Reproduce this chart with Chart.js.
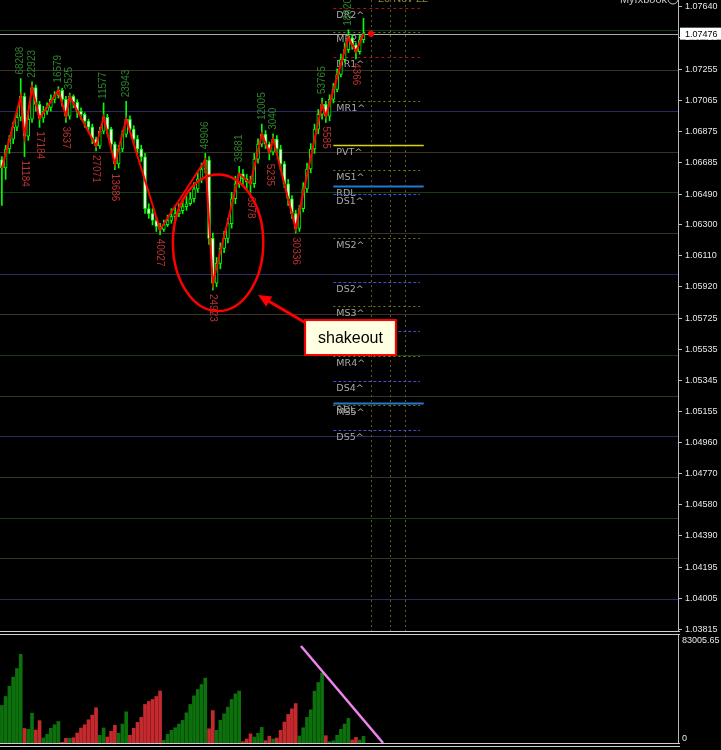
<!DOCTYPE html>
<html>
<head>
<meta charset="utf-8">
<script src="https://cdn.jsdelivr.net/npm/chart.js@4.4.0/dist/chart.umd.min.js"></script>
<style>
  html, body { margin: 0; padding: 0; background: #000; }
  #wrap { position: relative; width: 721px; height: 750px; overflow: hidden; background: #000; }
  #price { position: absolute; left: 0; top: 0; }
  #vol { position: absolute; left: 0; top: 631px; }
</style>
</head>
<body>
<div id="wrap">
  <canvas id="price" width="721" height="640"></canvas>
  <canvas id="vol" width="721" height="119"></canvas>
</div>
<script>
// EURUSD-style intraday candles (oldest first)
const opens = [
  1.06700, 1.06650, 1.06767, 1.06828, 1.06901, 1.06962, 1.07090, 1.06846, 1.06950, 1.07145,
  1.07041, 1.06956, 1.06999, 1.07023, 1.07072, 1.07096, 1.07127, 1.07072, 1.06968, 1.07090,
  1.07054, 1.06999, 1.06980, 1.06938, 1.06901, 1.06828, 1.06785, 1.06877, 1.06962, 1.06889,
  1.06797, 1.06675, 1.06767, 1.06858, 1.06950, 1.06889, 1.06828, 1.06767, 1.06718, 1.06400,
  1.06369, 1.06327, 1.06290, 1.06272, 1.06302, 1.06327, 1.06351, 1.06369, 1.06388, 1.06412,
  1.06430, 1.06461, 1.06522, 1.06583, 1.06644, 1.06699, 1.06217, 1.05942, 1.06064, 1.06156,
  1.06217, 1.06308, 1.06461, 1.06553, 1.06614, 1.06583, 1.06565, 1.06553, 1.06705, 1.06797,
  1.06858, 1.06797, 1.06748, 1.06828, 1.06767, 1.06675, 1.06553, 1.06461, 1.06369, 1.06278,
  1.06400, 1.06522, 1.06644, 1.06767, 1.06889, 1.06980, 1.07041, 1.06968, 1.07072, 1.07133,
  1.07225, 1.07316, 1.07378, 1.07451, 1.07408, 1.07365, 1.07439
];
const highs = [
  1.06720, 1.06790, 1.06850, 1.06930, 1.06990, 1.07200, 1.07110, 1.06990, 1.07180, 1.07160,
  1.07060, 1.07030, 1.07050, 1.07100, 1.07120, 1.07150, 1.07140, 1.07090, 1.07110, 1.07100,
  1.07070, 1.07020, 1.06990, 1.06950, 1.06920, 1.06840, 1.06900, 1.07050, 1.06980, 1.06900,
  1.06810, 1.06790, 1.06880, 1.07060, 1.06970, 1.06910, 1.06850, 1.06790, 1.06740, 1.06430,
  1.06400, 1.06350, 1.06310, 1.06330, 1.06360, 1.06400, 1.06420, 1.06430, 1.06460, 1.06480,
  1.06500, 1.06560, 1.06620, 1.06680, 1.06740, 1.06720, 1.06250, 1.06100, 1.06190, 1.06260,
  1.06340, 1.06500, 1.06600, 1.06660, 1.06640, 1.06610, 1.06600, 1.06740, 1.06830, 1.06920,
  1.06880, 1.06810, 1.06860, 1.06850, 1.06790, 1.06690, 1.06580, 1.06480, 1.06390, 1.06420,
  1.06560, 1.06680, 1.06800, 1.06920, 1.07010, 1.07080, 1.07060, 1.07100, 1.07170, 1.07260,
  1.07350, 1.07420, 1.07500, 1.07470, 1.07420, 1.07470, 1.07570
];
const lows = [
  1.06420, 1.06580, 1.06740, 1.06800, 1.06880, 1.06940, 1.06720, 1.06820, 1.06930, 1.07000,
  1.06900, 1.06930, 1.06980, 1.07000, 1.07050, 1.07080, 1.07030, 1.06930, 1.06950, 1.07020,
  1.06960, 1.06950, 1.06900, 1.06870, 1.06800, 1.06755, 1.06770, 1.06860, 1.06860, 1.06770,
  1.06640, 1.06650, 1.06750, 1.06840, 1.06870, 1.06800, 1.06740, 1.06690, 1.06370, 1.06340,
  1.06300, 1.06260, 1.06240, 1.06260, 1.06290, 1.06310, 1.06330, 1.06350, 1.06370, 1.06390,
  1.06420, 1.06440, 1.06500, 1.06560, 1.06620, 1.06180, 1.05900, 1.05920, 1.06030, 1.06130,
  1.06190, 1.06280, 1.06430, 1.06530, 1.06540, 1.06520, 1.06500, 1.06530, 1.06680, 1.06780,
  1.06770, 1.06700, 1.06730, 1.06740, 1.06640, 1.06530, 1.06420, 1.06340, 1.06250, 1.06260,
  1.06380, 1.06500, 1.06620, 1.06740, 1.06860, 1.06950, 1.06930, 1.06940, 1.07050, 1.07120,
  1.07210, 1.07300, 1.07360, 1.07380, 1.07320, 1.07350, 1.07420
];
const closes = [
  1.06650, 1.06767, 1.06828, 1.06901, 1.06962, 1.07090, 1.06846, 1.06950, 1.07145, 1.07041,
  1.06956, 1.06999, 1.07023, 1.07072, 1.07096, 1.07127, 1.07072, 1.06968, 1.07090, 1.07054,
  1.06999, 1.06980, 1.06938, 1.06901, 1.06828, 1.06785, 1.06877, 1.06962, 1.06889, 1.06797,
  1.06675, 1.06767, 1.06858, 1.06950, 1.06889, 1.06828, 1.06767, 1.06718, 1.06400, 1.06369,
  1.06327, 1.06290, 1.06272, 1.06302, 1.06327, 1.06351, 1.06369, 1.06388, 1.06412, 1.06430,
  1.06461, 1.06522, 1.06583, 1.06644, 1.06699, 1.06217, 1.05942, 1.06064, 1.06156, 1.06217,
  1.06308, 1.06461, 1.06553, 1.06614, 1.06583, 1.06565, 1.06553, 1.06705, 1.06797, 1.06858,
  1.06797, 1.06748, 1.06828, 1.06767, 1.06675, 1.06553, 1.06461, 1.06369, 1.06278, 1.06400,
  1.06522, 1.06644, 1.06767, 1.06889, 1.06980, 1.07041, 1.06968, 1.07072, 1.07133, 1.07225,
  1.07316, 1.07378, 1.07451, 1.07408, 1.07365, 1.07439, 1.07476
];

// cumulative wave volume per bar, and the direction of the wave it belongs to
const volumes = [
  28880, 35770, 43660, 50560, 57220, 68208,
  11184,
  10490, 22923,
  9960, 17184,
  3830, 6660, 11260, 14020, 16579,
  540, 3637,
  3525,
  4060, 7660, 11490, 14020, 17850, 21450, 27071,
  5900, 11577,
  4600, 8960, 13686,
  7430, 14550, 23943,
  5900, 11260, 15860, 19690, 29640, 31940, 33470, 35770, 40027,
  2070, 6660, 9730, 11720, 14550, 17390, 23210, 29640, 36230, 41130, 44960, 49906,
  10950, 24923,
  9730, 17390, 22440, 27580, 33470, 37760, 39881,
  1000, 3060, 6978,
  4600, 7430, 12005,
  1760, 5235,
  3040,
  3830, 9730, 16090, 21980, 26270, 30336,
  5360, 11720, 19690, 25510, 39830, 46500, 53765,
  5585,
  1000, 1760, 5900, 10490, 14550, 18920,
  2300, 4366,
  2300, 5130
];
const waveDir = [
  1, 1, 1, 1, 1, 1,
  -1,
  1, 1,
  -1, -1,
  1, 1, 1, 1, 1,
  -1, -1,
  1,
  -1, -1, -1, -1, -1, -1, -1,
  1, 1,
  -1, -1, -1,
  1, 1, 1,
  -1, -1, -1, -1, -1, -1, -1, -1, -1,
  1, 1, 1, 1, 1, 1, 1, 1, 1, 1, 1, 1,
  -1, -1,
  1, 1, 1, 1, 1, 1, 1,
  -1, -1, -1,
  1, 1, 1,
  -1, -1,
  1,
  -1, -1, -1, -1, -1, -1,
  1, 1, 1, 1, 1, 1, 1,
  -1,
  1, 1, 1, 1, 1, 1,
  -1, -1,
  1, 1
];
const zigzagBars = [0, 5, 6, 8, 10, 15, 17, 18, 25, 27, 30, 33, 42, 54, 56, 63, 66, 69, 71, 72, 78, 85, 86, 92, 94, 96];

const priceTicks = [
  1.07640, 1.07450, 1.07255, 1.07065, 1.06875, 1.06685, 1.06490, 1.06300, 1.06110, 1.05920,
  1.05725, 1.05535, 1.05345, 1.05155, 1.04960, 1.04770, 1.04580, 1.04390, 1.04195, 1.04005, 1.03815
];
const currentPrice = 1.07476;
const greenLevels = [1.0750, 1.0650, 1.0550, 1.0450];
const purpleLevels = [1.0700, 1.0600, 1.0500, 1.0400];
const brownLevels = [1.0725, 1.0675, 1.0625, 1.0575, 1.0525, 1.0475, 1.0425];

const pivotNames = ['DR2^', 'MR2^', 'DR1^', 'MR1^', 'PVT^', 'MS1^', 'RDL', 'DS1^', 'MS2^', 'DS2^',
  'MS3^', 'DS3^', 'MR4^', 'DS4^', 'RDL', 'MS5^', 'DS5^'];
const pivotValues = [1.07634, 1.07486, 1.07332, 1.07062, 1.06791, 1.06638, 1.06539, 1.06490, 1.06219, 1.05949,
  1.05801, 1.05647, 1.05497, 1.05340, 1.05205, 1.05192, 1.05039];
const pivotFromBar = 88;
const pivotToBar = 111;
const sessionBars = [98, 103, 107];
const markerBar = 98;

const volumeMax = 83005.65;
const trendBars = [79.4, 101.2];
const trendVolumes = [74550, 0];

const shakeout = {
  text: 'shakeout',
  bar: 57.4, price: 1.0619, barRadius: 12, priceRadius: 0.0042,
  boxBars: [80.5, 104.6], boxPrices: [1.05715, 1.05500],
  arrowFrom: [80.7, 1.05697], arrowTo: [68, 1.05869]
};

Chart.defaults.font.family = "'Liberation Sans', Arial, sans-serif";
Chart.defaults.color = '#e6e6e6';

const xAxis = { type: 'linear', min: -0.5, max: 179.5, offset: false, display: false };
const fixWidth = (scale) => {
  scale.width = 43;
  scale.paddingTop = 0;
  scale.paddingBottom = 0;
  scale.paddingLeft = 0;
  scale.paddingRight = 0;
};

const pivotStyle = (name) => {
  if (name.startsWith('DR')) return { color: '#a01818', dash: [3, 3], width: 1 };
  if (name.startsWith('DS')) return { color: '#4b4bd0', dash: [3, 2], width: 1 };
  if (name.startsWith('PVT')) return { color: '#d8d800', dash: [], width: 1.5 };
  if (name.startsWith('RDL')) return { color: '#2378d0', dash: [], width: 2 };
  return { color: '#7a7a1e', dash: [2, 3], width: 1 };
};

const priceOverlay = {
  id: 'priceOverlay',
  beforeDatasetsDraw(chart) {
    const { ctx, chartArea, scales: { x, y } } = chart;
    ctx.save();
    ctx.lineWidth = 1;
    const hline = (v, color) => {
      const py = Math.round(y.getPixelForValue(v)) + 0.5;
      ctx.strokeStyle = color;
      ctx.beginPath();
      ctx.moveTo(chartArea.left, py);
      ctx.lineTo(chartArea.right, py);
      ctx.stroke();
    };
    greenLevels.forEach(v => hline(v, '#143f14'));
    brownLevels.forEach(v => hline(v, '#3b3223'));
    purpleLevels.forEach(v => hline(v, '#2b2b60'));
    hline(currentPrice, '#a9a9a9');

    // session separators
    ctx.setLineDash([2, 3]);
    ctx.strokeStyle = '#5e5e16';
    sessionBars.forEach(b => {
      const px = Math.round(x.getPixelForValue(b)) + 0.5;
      ctx.beginPath();
      ctx.moveTo(px, chartArea.top);
      ctx.lineTo(px, chartArea.bottom);
      ctx.stroke();
    });

    // pivot levels
    const x0 = x.getPixelForValue(pivotFromBar);
    ctx.font = "9.5px 'DejaVu Sans'";
    ctx.textBaseline = 'top';
    ctx.textAlign = 'left';
    pivotNames.forEach((name, i) => {
      const st = pivotStyle(name);
      const py = Math.round(y.getPixelForValue(pivotValues[i])) + 0.5;
      const x1 = x.getPixelForValue(pivotToBar + (st.dash.length ? 0 : 1));
      ctx.setLineDash(st.dash);
      ctx.strokeStyle = st.color;
      ctx.lineWidth = st.width;
      ctx.beginPath();
      ctx.moveTo(x0, py);
      ctx.lineTo(x1, py);
      ctx.stroke();
      ctx.fillStyle = '#a8a8a8';
      ctx.fillText(name, x0 + 3, py + 2);
    });
    ctx.restore();
  },
  afterDatasetsDraw(chart) {
    const { ctx, chartArea, scales: { x, y } } = chart;
    ctx.save();

    // wave volume labels at each swing
    ctx.font = "10px 'Liberation Sans'";
    ctx.textBaseline = 'middle';
    ctx.textAlign = 'left';
    zigzagBars.slice(1, -1).forEach(b => {
      const px = x.getPixelForValue(b);
      ctx.save();
      if (waveDir[b] > 0) {
        ctx.translate(px, y.getPixelForValue(highs[b]) - 4);
        ctx.rotate(-Math.PI / 2);
        ctx.fillStyle = '#2d842d';
      } else {
        ctx.translate(px, y.getPixelForValue(lows[b]) + 4);
        ctx.rotate(Math.PI / 2);
        ctx.fillStyle = '#b83232';
      }
      ctx.fillText(String(volumes[b]), 0, 0);
      ctx.restore();
    });

    // shakeout annotation
    const cx = x.getPixelForValue(shakeout.bar);
    const cy = y.getPixelForValue(shakeout.price);
    const rx = x.getPixelForValue(shakeout.bar + shakeout.barRadius) - cx;
    const ry = y.getPixelForValue(shakeout.price - shakeout.priceRadius) - cy;
    ctx.strokeStyle = '#ff0000';
    ctx.lineWidth = 2.5;
    ctx.beginPath();
    ctx.ellipse(cx, cy, rx, ry, 0, 0, Math.PI * 2);
    ctx.stroke();

    const ax0 = x.getPixelForValue(shakeout.arrowFrom[0]);
    const ay0 = y.getPixelForValue(shakeout.arrowFrom[1]);
    const ax1 = x.getPixelForValue(shakeout.arrowTo[0]);
    const ay1 = y.getPixelForValue(shakeout.arrowTo[1]);
    const ang = Math.atan2(ay1 - ay0, ax1 - ax0);
    ctx.lineWidth = 3;
    ctx.beginPath();
    ctx.moveTo(ax0, ay0);
    ctx.lineTo(ax1 - 8 * Math.cos(ang), ay1 - 8 * Math.sin(ang));
    ctx.stroke();
    ctx.fillStyle = '#ff0000';
    ctx.beginPath();
    ctx.moveTo(ax1, ay1);
    ctx.lineTo(ax1 - 13 * Math.cos(ang) + 6 * Math.sin(ang), ay1 - 13 * Math.sin(ang) - 6 * Math.cos(ang));
    ctx.lineTo(ax1 - 13 * Math.cos(ang) - 6 * Math.sin(ang), ay1 - 13 * Math.sin(ang) + 6 * Math.cos(ang));
    ctx.closePath();
    ctx.fill();

    const bx0 = x.getPixelForValue(shakeout.boxBars[0]);
    const bx1 = x.getPixelForValue(shakeout.boxBars[1]);
    const by0 = y.getPixelForValue(shakeout.boxPrices[0]);
    const by1 = y.getPixelForValue(shakeout.boxPrices[1]);
    ctx.fillStyle = '#ffffe1';
    ctx.fillRect(bx0, by0, bx1 - bx0, by1 - by0);
    ctx.lineWidth = 2;
    ctx.strokeRect(bx0, by0, bx1 - bx0, by1 - by0);
    ctx.fillStyle = '#000';
    ctx.font = "16px 'Liberation Sans'";
    ctx.textAlign = 'center';
    ctx.textBaseline = 'middle';
    ctx.fillText(shakeout.text, (bx0 + bx1) / 2, (by0 + by1) / 2 + 1);

    // top-edge captions (cut off by the window)
    ctx.font = "11px 'Liberation Sans'";
    ctx.textAlign = 'right';
    ctx.textBaseline = 'alphabetic';
    ctx.fillStyle = '#c8c8c8';
    ctx.fillText('Myfxbook', 667, 3);
    ctx.strokeStyle = '#c8c8c8';
    ctx.lineWidth = 1;
    ctx.beginPath();
    ctx.arc(673, -1, 5, 0, Math.PI * 2);
    ctx.stroke();
    ctx.textAlign = 'left';
    ctx.fillStyle = '#8a8a40';
    ctx.fillText('20 Nov 22', 378, 2);

    // current price box on the axis
    const cpy = y.getPixelForValue(currentPrice);
    ctx.fillStyle = '#ffffff';
    ctx.fillRect(chartArea.right + 2, cpy - 6, 43, 12);
    ctx.fillStyle = '#000000';
    ctx.font = "9px 'Liberation Sans'";
    ctx.textBaseline = 'middle';
    ctx.fillText(currentPrice.toFixed(5), chartArea.right + 7, cpy + 0.5);
    ctx.restore();
  }
};

new Chart(document.getElementById('price'), {
  type: 'bar',
  data: {
    datasets: [
      {
        label: 'wick',
        data: lows.map((l, i) => ({ x: i, y: [l, highs[i]] })),
        backgroundColor: '#00ff00',
        barThickness: 1,
        grouped: false,
        order: 3
      },
      {
        label: 'body',
        data: opens.map((o, i) => ({ x: i, y: [o, closes[i]] })),
        backgroundColor: opens.map((o, i) => (closes[i] >= o ? '#000000' : '#ffffff')),
        borderColor: '#00ff00',
        borderWidth: 1,
        borderSkipped: false,
        barThickness: 3,
        grouped: false,
        order: 2
      },
      {
        type: 'line',
        label: 'zigzag',
        data: zigzagBars.map(b => ({ x: b, y: closes[b] })),
        borderColor: '#ff0000',
        borderWidth: 2,
        pointRadius: 0,
        order: 1
      },
      {
        type: 'line',
        label: 'last',
        data: [{ x: markerBar, y: currentPrice }],
        showLine: false,
        pointRadius: 3,
        pointBackgroundColor: '#ff0000',
        pointBorderWidth: 0,
        order: 0
      }
    ]
  },
  options: {
    responsive: false,
    animation: false,
    events: [],
    layout: { padding: { top: 0, left: 0, right: 0, bottom: 9 }, autoPadding: false },
    plugins: { legend: { display: false }, tooltip: { enabled: false } },
    scales: {
      x: xAxis,
      y: {
        position: 'right',
        min: 1.03803,
        max: 1.07683,
        beginAtZero: false,
        afterFit: fixWidth,
        afterBuildTicks: (scale) => { scale.ticks = priceTicks.map(v => ({ value: v })); },
        ticks: {
          autoSkip: false,
          padding: 3,
          color: '#e6e6e6',
          font: { size: 9 },
          callback: (v) => Number(v).toFixed(5)
        },
        grid: { drawOnChartArea: false, drawTicks: true, tickLength: 4, color: '#c0c0c0' },
        border: { display: true, color: '#b8b8b8', width: 1 }
      }
    }
  },
  plugins: [priceOverlay]
});

const volOverlay = {
  id: 'volOverlay',
  afterDraw(chart) {
    const { ctx, chartArea, scales: { y } } = chart;
    ctx.save();
    ctx.strokeStyle = '#cfcfcf';
    ctx.lineWidth = 1;
    const base = y.getPixelForValue(0);
    [0.5, 3.5, Math.round(base) + 0.5, Math.round(base) + 3.5].forEach(py => {
      ctx.beginPath();
      ctx.moveTo(0, py);
      ctx.lineTo(chartArea.right + 2, py);
      ctx.stroke();
    });
    ctx.fillStyle = '#e6e6e6';
    ctx.font = "9px 'Liberation Sans'";
    ctx.textAlign = 'left';
    ctx.textBaseline = 'middle';
    ctx.fillText(volumeMax.toFixed(2), chartArea.right + 4, y.getPixelForValue(volumeMax) + 6);
    ctx.fillText('0', chartArea.right + 4, base - 4);
    ctx.restore();
  }
};

new Chart(document.getElementById('vol'), {
  type: 'bar',
  data: {
    datasets: [
      {
        label: 'volume',
        data: volumes.map((v, i) => ({ x: i, y: v })),
        backgroundColor: waveDir.map(d => (d > 0 ? '#0c700c' : '#c4292d')),
        barThickness: 3,
        order: 1
      },
      {
        type: 'line',
        label: 'trend',
        data: trendBars.map((b, i) => ({ x: b, y: trendVolumes[i] })),
        borderColor: '#ee82ee',
        borderWidth: 2.5,
        pointRadius: 0,
        order: 0
      }
    ]
  },
  options: {
    responsive: false,
    animation: false,
    events: [],
    layout: { padding: { top: 4, bottom: 7 }, autoPadding: false },
    plugins: { legend: { display: false }, tooltip: { enabled: false } },
    scales: {
      x: xAxis,
      y: {
        position: 'right',
        min: 0,
        max: volumeMax,
        afterFit: fixWidth,
        ticks: { display: false },
        grid: { display: false },
        border: { display: true, color: '#b8b8b8', width: 1 }
      }
    }
  },
  plugins: [volOverlay]
});
</script>
</body>
</html>
